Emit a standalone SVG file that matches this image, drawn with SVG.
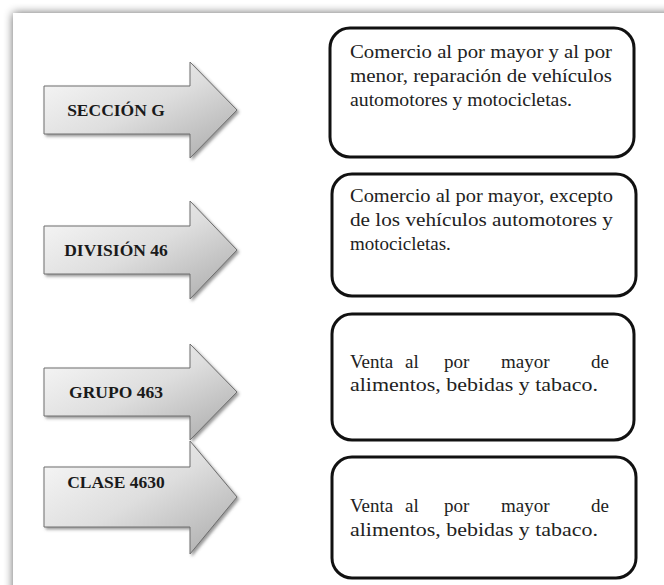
<svg xmlns="http://www.w3.org/2000/svg" width="664" height="585" viewBox="0 0 664 585">
<defs>
<linearGradient id="ag" x1="0" y1="0" x2="1" y2="1">
<stop offset="0" stop-color="#fafafa"/>
<stop offset="0.5" stop-color="#dedede"/>
<stop offset="1" stop-color="#a9a9a9"/>
</linearGradient>
<filter id="pageShadow" x="-10%" y="-10%" width="120%" height="120%">
<feGaussianBlur in="SourceAlpha" stdDeviation="5"/>
<feComponentTransfer><feFuncA type="linear" slope="0.6"/></feComponentTransfer>
<feMerge><feMergeNode/><feMergeNode in="SourceGraphic"/></feMerge>
</filter>
<filter id="arrowShadow" x="-10%" y="-10%" width="130%" height="130%">
<feDropShadow dx="2" dy="2" stdDeviation="1.5" flood-color="#555" flood-opacity="0.6"/>
</filter>
</defs>
<style>
.arrow{fill:url(#ag);stroke:#6e6e6e;stroke-width:1;filter:url(#arrowShadow)}
.box{fill:#fff;stroke:#111;stroke-width:3}
.lbl{font-family:"Liberation Serif","Times New Roman",serif;font-weight:bold;font-size:17.5px;fill:#1a1a1a;text-anchor:middle}
.txt{font-family:"Liberation Serif","Times New Roman",serif;font-size:19px;fill:#222}
</style>
<rect x="0" y="0" width="664" height="585" fill="#fff"/>
<rect x="13" y="13" width="700" height="640" fill="#fff" filter="url(#pageShadow)"/>

<g id="arrow1">
<path class="arrow" d="M44 86 H190 V62 L237 110 L190 158 V134 H44 Z"/>
<text class="lbl" x="116" y="116">SECCIÓN G</text>
</g>
<g id="arrow2">
<path class="arrow" d="M44 226 H190 V201 L237 250 L190 299 V274 H44 Z"/>
<text class="lbl" x="116" y="256">DIVISIÓN 46</text>
</g>
<g id="arrow3">
<path class="arrow" d="M44 368 H190 V344 L237 392 L190 440 V416 H44 Z"/>
<text class="lbl" x="116" y="398">GRUPO 463</text>
</g>
<g id="arrow4">
<path class="arrow" d="M44 467 H190 V441 L237 497 L190 554 V527 H44 Z"/>
<text class="lbl" x="116" y="488">CLASE 4630</text>
</g>

<g id="box1">
<rect class="box" x="330" y="28" width="304" height="129" rx="20"/>
<text class="txt" x="350" y="58" textLength="262" lengthAdjust="spacingAndGlyphs">Comercio al por mayor y al por</text>
<text class="txt" x="350" y="82" textLength="262" lengthAdjust="spacingAndGlyphs">menor, reparación de vehículos</text>
<text class="txt" x="350" y="106" textLength="222" lengthAdjust="spacingAndGlyphs">automotores y motocicletas.</text>
</g>
<g id="box2">
<rect class="box" x="332" y="174" width="304" height="122" rx="20"/>
<text class="txt" x="350" y="202" textLength="263" lengthAdjust="spacingAndGlyphs">Comercio al por mayor, excepto</text>
<text class="txt" x="350" y="226" textLength="263" lengthAdjust="spacingAndGlyphs">de los vehículos automotores y</text>
<text class="txt" x="350" y="250">motocicletas.</text>
</g>
<g id="box3">
<rect class="box" x="332" y="314" width="302" height="126" rx="20"/>
<text class="txt" y="368"><tspan x="350">Venta</tspan><tspan x="405">al</tspan><tspan x="444">por</tspan><tspan x="501">mayor</tspan><tspan x="591">de</tspan></text>
<text class="txt" x="350" y="391" textLength="248" lengthAdjust="spacingAndGlyphs">alimentos, bebidas y tabaco.</text>
</g>
<g id="box4">
<rect class="box" x="332" y="457" width="304" height="121" rx="20"/>
<text class="txt" y="512"><tspan x="350">Venta</tspan><tspan x="405">al</tspan><tspan x="444">por</tspan><tspan x="501">mayor</tspan><tspan x="591">de</tspan></text>
<text class="txt" x="350" y="536" textLength="248" lengthAdjust="spacingAndGlyphs">alimentos, bebidas y tabaco.</text>
</g>
<g id="connectors"></g>
</svg>
